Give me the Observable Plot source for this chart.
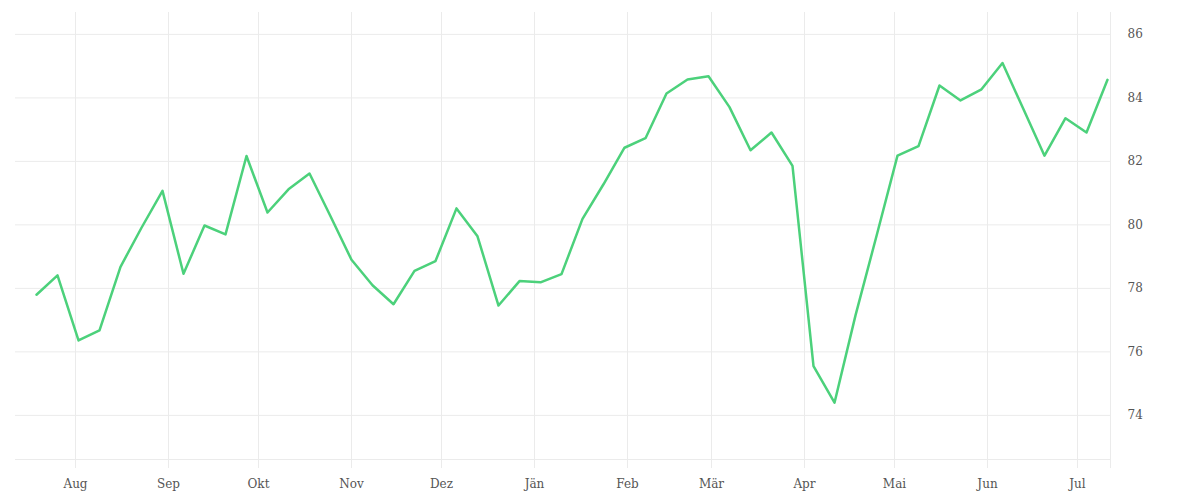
<!DOCTYPE html>
<html>
<head>
<meta charset="utf-8">
<script src="https://cdn.jsdelivr.net/npm/d3@7"></script>
<script src="https://cdn.jsdelivr.net/npm/@observablehq/plot@0.6"></script>
<style>
  html, body { margin: 0; padding: 0; background: #ffffff; }
  #chart { width: 1200px; height: 500px; }
</style>
</head>
<body>
<div id="chart"></div>
<script>
// Weekly series (first week starting 2018-07-19)
const firstWeek = "2018-07-19";
const values = [
  77.80, 78.41, 76.36, 76.68, 78.68, 79.91, 81.07, 78.46, 79.98, 79.70,
  82.17, 80.39, 81.12, 81.62, 80.27, 78.90, 78.10, 77.50, 78.55, 78.86,
  80.52, 79.64, 77.46, 78.23, 78.19, 78.45, 80.19, 81.28, 82.43, 82.73,
  84.14, 84.58, 84.68, 83.71, 82.35, 82.91, 81.86, 75.55, 74.40, 77.15,
  79.65, 82.18, 82.48, 84.39, 83.92, 84.27, 85.10, 83.64, 82.18, 83.36,
  82.91, 84.57
];

// Axis content
const xDomain = ["2018-07-12", "2019-07-12"];
const monthStarts = ["2018-08-01","2018-09-01","2018-10-01","2018-11-01","2018-12-01","2019-01-01",
                     "2019-02-01","2019-03-01","2019-04-01","2019-05-01","2019-06-01","2019-07-01"];
const monthLabels = ["Aug","Sep","Okt","Nov","Dez","Jän","Feb","Mär","Apr","Mai","Jun","Jul"];
const yDomain = [72.61, 86.69];
const yTicks = [74, 76, 78, 80, 82, 84, 86];

const start = new Date(firstWeek + "T00:00:00Z");
const data = values.map((v, i) => ({date: d3.utcDay.offset(start, 7 * i), value: v}));

const xStart = new Date(xDomain[0] + "T00:00:00Z");
const xEnd = new Date(xDomain[1] + "T00:00:00Z");
const monthDates = monthStarts.map(s => new Date(s + "T00:00:00Z"));
const xTicks = [...monthDates, xEnd];
const labelFor = new Map(monthDates.map((d, i) => [+d, monthLabels[i]]));
const yGrid = [yDomain[0], ...yTicks];

const grid = "#ebebeb";

const chart = Plot.plot({
  width: 1200,
  height: 500,
  marginLeft: 15,
  marginRight: 90,
  marginTop: 12,
  marginBottom: 41,
  style: {fontFamily: "'DejaVu Serif', serif", fontSize: "12px", color: "#555", background: "#ffffff"},
  x: {type: "utc", domain: [xStart, xEnd]},
  y: {domain: yDomain},
  marks: [
    Plot.gridX(xTicks, {stroke: grid, strokeOpacity: 1, strokeWidth: 1}),
    Plot.gridY(yGrid, {stroke: grid, strokeOpacity: 1, strokeWidth: 1}),
    Plot.axisX(xTicks, {
      label: null, tickSize: 9, tickPadding: 11, stroke: grid, strokeOpacity: 1,
      tickFormat: d => labelFor.get(+d) ?? ""
    }),
    Plot.axisY(yTicks, {anchor: "right", label: null, tickSize: 0, tickPadding: 17}),
    Plot.line(data, {x: "date", y: "value", stroke: "#4cd17b", strokeWidth: 2.5, curve: "linear"})
  ]
});
document.getElementById("chart").append(chart);
</script>
</body>
</html>
